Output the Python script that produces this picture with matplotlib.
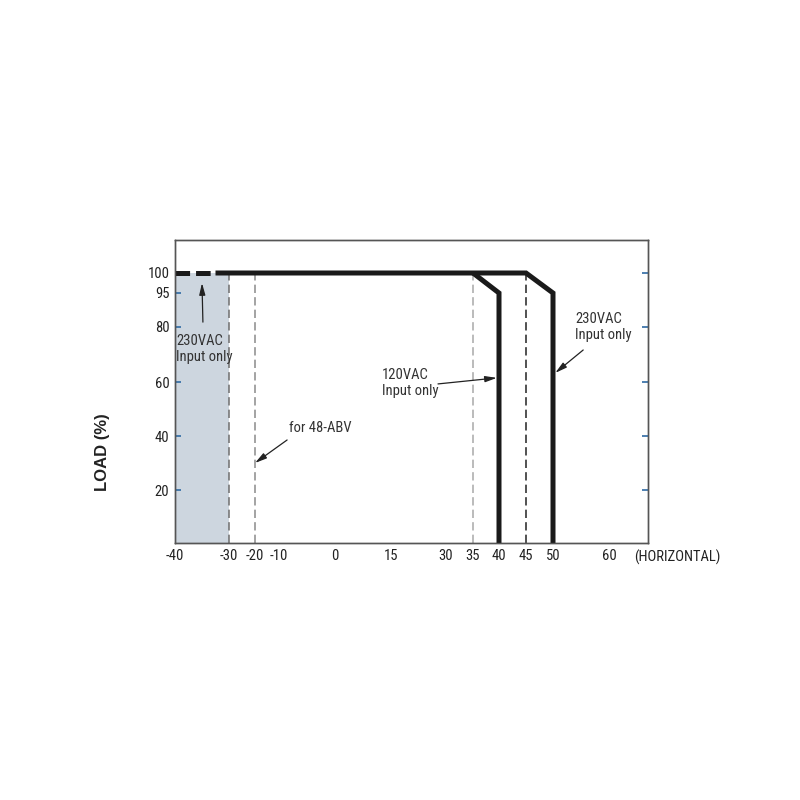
import numpy as np
import matplotlib
matplotlib.use("Agg")
import matplotlib.pyplot as plt
from matplotlib.ticker import FixedLocator, NullFormatter

plt.rcParams['font.family'] = ['Roboto Condensed', 'Archivo Narrow', 'PT Sans Narrow',
                               'Liberation Sans', 'DejaVu Sans']
plt.rcParams['lines.scale_dashes'] = False

# ---- data ----
temp_ticks = [-40, -30, -20, -10, 0, 15, 30, 35, 40, 45, 50, 60]
temp_minor = [0, 15, 30, 60]
load_ticks_left = [20, 40, 60, 80, 95, 100]
load_ticks_right = [20, 40, 60, 80, 100]

# 230VAC-only low temperature region (dashed part of the curve)
low_x = [-40, -32.5]
low_y = [100, 100]
# main derating curve (230VAC)
curve_230_x = [-32.5, 45, 50, 50]
curve_230_y = [100, 100, 95, 0]
# 120VAC branch
curve_120_x = [35, 40, 40]
curve_120_y = [100, 95, 0]

shade_x = [-40, -30]
ref_lines = [-30, -20, 35, 45]
ref_colors = ['#6e6e6e', '#8a8a8a', '#a8a8a8', '#222222']

# ---- non-linear axis scales (as in the original drawing) ----
X_BREAK = [-40, -30, -20, -10, 0, 15, 30, 35, 40, 45, 50, 60, 67]
X_POS = [175, 229, 255, 279, 335, 391, 446, 473, 499, 526, 553, 609, 648]
Y_BREAK = [0, 20, 40, 60, 80, 95, 100, 112]
Y_POS = [0, 53, 107, 161, 216, 250, 270, 303]


def xf(v):
    return np.interp(v, X_BREAK, X_POS)


def xi(p):
    return np.interp(p, X_POS, X_BREAK)


def yf(v):
    return np.interp(v, Y_BREAK, Y_POS)


def yi(p):
    return np.interp(p, Y_POS, Y_BREAK)


fig = plt.figure(figsize=(8, 8), dpi=100)
ax = fig.add_axes([175 / 800, 1 - 543 / 800, 473 / 800, 303 / 800])
ax.set_xscale('function', functions=(xf, xi))
ax.set_yscale('function', functions=(yf, yi))
ax.set_xlim(-40, 67)
ax.set_ylim(0, 112)

tick_blue = '#2f6aa3'
text_col = '#333333'

ax.axvspan(shade_x[0], shade_x[1], ymin=0, ymax=(270 / 303), color='#cdd6df', lw=0, zorder=0)

for xv, c in zip(ref_lines, ref_colors):
    ax.plot([xv, xv], [0, 100], color=c, lw=1.1, dashes=(6, 3), zorder=1)

ax.plot(low_x, low_y, color='#1a1a1a', lw=3.6, dashes=(10.5, 4.3), zorder=3)
ax.plot(curve_230_x, curve_230_y, color='#1a1a1a', lw=3.6,
        solid_joinstyle='miter', solid_capstyle='butt', zorder=3)
ax.plot(curve_120_x, curve_120_y, color='#1a1a1a', lw=3.6,
        solid_joinstyle='miter', solid_capstyle='butt', zorder=3)

# ticks
ax.xaxis.set_major_locator(FixedLocator(temp_ticks))
ax.set_xticklabels([str(t) for t in temp_ticks])
ax.xaxis.set_minor_locator(FixedLocator(temp_minor))
ax.xaxis.set_minor_formatter(NullFormatter())
ax.tick_params(axis='x', which='major', length=0, pad=4, labelsize=10.5, labelcolor='#222222')
ax.tick_params(axis='x', which='minor', direction='in', length=4.5, width=1.2, color=tick_blue)

ax.yaxis.set_major_locator(FixedLocator(load_ticks_left))
ax.yaxis.set_minor_locator(FixedLocator([]))
ax.set_yticklabels([str(t) for t in load_ticks_left])
ax.tick_params(axis='y', which='major', direction='in', length=4.5, width=1.2,
               color=tick_blue, pad=4, labelsize=10.5, labelcolor='#222222')

ax2 = ax.twinx()
ax2.set_yscale('function', functions=(yf, yi))
ax2.set_ylim(0, 112)
ax2.yaxis.set_major_locator(FixedLocator(load_ticks_right))
ax2.yaxis.set_minor_locator(FixedLocator([]))
ax2.set_yticklabels([])
ax2.tick_params(axis='y', direction='in', length=4.5, width=1.2, color=tick_blue)

for a in (ax, ax2):
    for s in a.spines.values():
        s.set_color('#555555')
        s.set_linewidth(1.0)

# annotations
arrow = dict(arrowstyle='-|>,head_length=0.7,head_width=0.18', color='#222222', lw=0.9,
             shrinkA=0, shrinkB=0)
ax.annotate('', xy=(-35, 97.5), xycoords='data', xytext=(0.059, 0.729),
            textcoords='axes fraction', arrowprops=arrow, zorder=4)
ax.text(0.002, 0.640, '230VAC\nInput only', transform=ax.transAxes, ha='left', va='center',
        fontsize=10.5, color=text_col, linespacing=1.15)

ax.annotate('', xy=(-20, 30), xycoords='data', xytext=(0.237, 0.340),
            textcoords='axes fraction', arrowprops=arrow, zorder=4)
ax.text(0.307, 0.380, 'for 48-ABV', transform=ax.transAxes, ha='center', va='center',
        fontsize=10.5, color=text_col)

ax.annotate('', xy=(39.6, 61.5), xycoords='data', xytext=(0.556, 0.525),
            textcoords='axes fraction', arrowprops=arrow, zorder=4)
ax.text(0.438, 0.528, '120VAC\nInput only', transform=ax.transAxes, ha='left', va='center',
        fontsize=10.5, color=text_col, linespacing=1.15)

ax.annotate('', xy=(50.4, 63.3), xycoords='data', xytext=(0.863, 0.637),
            textcoords='axes fraction', arrowprops=arrow, zorder=4)
ax.text(0.846, 0.713, '230VAC\nInput only', transform=ax.transAxes, ha='left', va='center',
        fontsize=10.5, color=text_col, linespacing=1.15)

ax.text(1.061, -0.046, '(HORIZONTAL)', transform=ax.transAxes, ha='center', va='center',
        fontsize=10.5, color='#222222')

fig.text(103 / 800, 1 - 452 / 800, 'LOAD (%)', rotation=90, ha='center', va='center',
         fontsize=12, fontweight='bold', color='#222222',
         family=['Liberation Sans', 'DejaVu Sans'])

fig.savefig('out.png', dpi=100)
